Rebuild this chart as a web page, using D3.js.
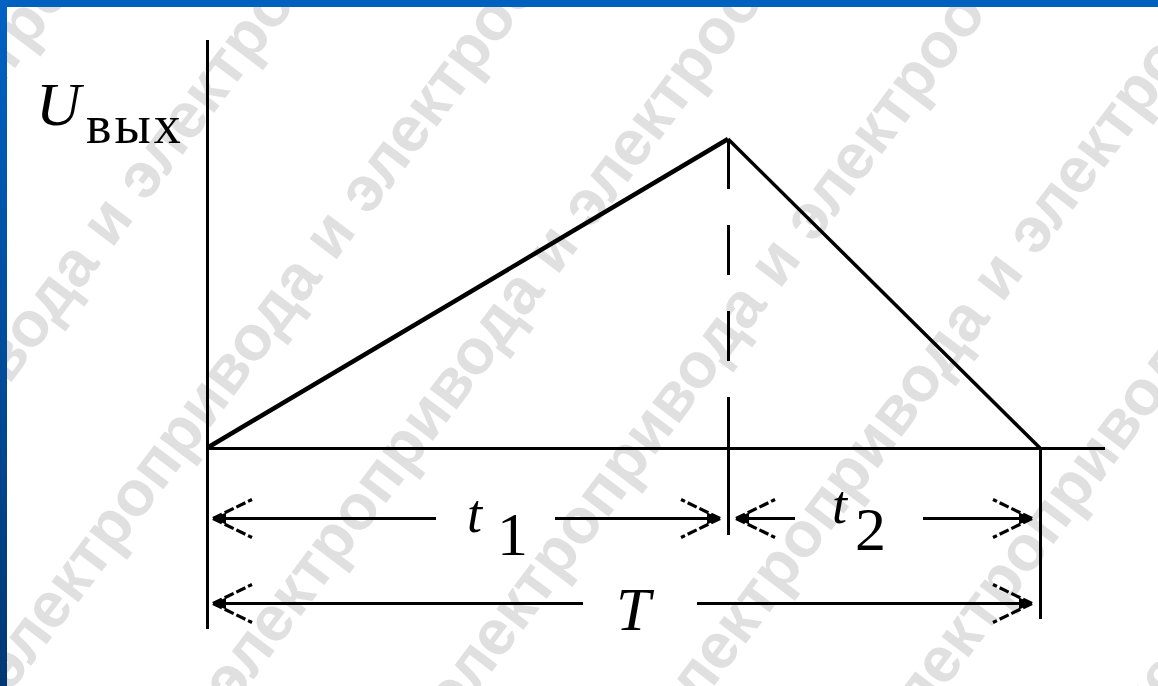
<!DOCTYPE html>
<html>
<head>
	<meta http-equiv="Content-Type" content="text/html;charset=UTF-8">
	<title>Uвых</title>
	<style>
		body { margin: 0; background: #fff; }
		svg { display: block; }
		.wm { font-family: "Liberation Sans", Arial, sans-serif; font-weight: bold; fill: #e0e0e0; }
		.lbl { font-family: "Liberation Serif", "Times New Roman", serif; fill: #000; }
	</style>
</head>
<body>
	<div class="chart"></div>

	<script src="https://d3js.org/d3.v7.min.js"></script>
	<script type="text/javascript">

		var w = 1158, h = 686;

		// time points: 0, t1, T  and output voltage at them
		var tPoints = [0, 0.6255, 1];
		var uValues = [0, 1, 0];

		// dimension spans (from, to) as indices into tPoints
		var spanFrom = [0, 1, 0];
		var spanTo = [1, 2, 2];
		var spanNames = ["t", "t", "T"];
		var spanSubs = ["1", "2", ""];

		var yLabel = "U", ySub = "вых";
		var watermark = "электропривода и электрооборудования";

		var x = d3.scaleLinear().domain([0, 1]).range([207, 1040]);
		var y = d3.scaleLinear().domain([0, 1]).range([448, 139]);

		var svg = d3.select("div.chart").append("svg")
					.attr("width", w)
					.attr("height", h);

		svg.append("rect").attr("width", w).attr("height", h).attr("fill", "#fff");

		/******************** watermark ********************/
		var wm = svg.append("g").attr("class", "wm").style("font-size", "64px");
		var probe = wm.append("text").text("и");
		var iW = probe.node().getComputedTextLength();
		probe.text(watermark + " электропривода ");
		var preW = probe.node().getComputedTextLength();
		probe.remove();

		var deg = 53, ang = deg * Math.PI / 180;
		var dX = Math.cos(ang), dY = -Math.sin(ang);
		var nX = Math.sin(ang), nY = Math.cos(ang);
		for (var k = -2; k <= 9; k++) {
			var v = 222 + 186 * k, u = -130 + 123 * k;
			var px = u * dX + v * nX, py = u * dY + v * nY;
			wm.append("text")
				.attr("transform", "translate(" + px + "," + py + ") rotate(" + (-deg) + ")")
				.attr("x", -preW - iW / 2)
				.attr("dy", 17)
				.text(watermark + " " + watermark + " " + watermark);
		}

		// frame
		var grad = svg.append("defs").append("linearGradient")
			.attr("id", "side").attr("x1", 0).attr("y1", 0).attr("x2", 0).attr("y2", 1);
		grad.append("stop").attr("offset", "0%").attr("stop-color", "#0062c4");
		grad.append("stop").attr("offset", "100%").attr("stop-color", "#003874");
		svg.append("rect").attr("width", w).attr("height", 7).attr("fill", "#0060c0");
		svg.append("rect").attr("width", 7).attr("height", h).attr("fill", "url(#side)");

		/******************** axes ********************/
		var g = svg.append("g").attr("stroke", "#000").attr("fill", "none");

		g.append("line").attr("shape-rendering", "crispEdges").attr("stroke-width", 3)
			.attr("x1", x(0)).attr("y1", y(1.32)).attr("x2", x(0)).attr("y2", y(-0.585));
		g.append("line").attr("shape-rendering", "crispEdges").attr("stroke-width", 3)
			.attr("x1", x(0)).attr("y1", y(0)).attr("x2", x(1.078)).attr("y2", y(0));
		g.append("line").attr("shape-rendering", "crispEdges").attr("stroke-width", 3)
			.attr("x1", x(tPoints[2])).attr("y1", y(0)).attr("x2", x(tPoints[2])).attr("y2", y(-0.553));

		// dashed line from the peak
		g.append("line").attr("shape-rendering", "crispEdges").attr("stroke-width", 3)
			.attr("stroke-dasharray", "50,36")
			.attr("x1", x(tPoints[1])).attr("y1", y(uValues[1])).attr("x2", x(tPoints[1])).attr("y2", y(0));
		g.append("line").attr("shape-rendering", "crispEdges").attr("stroke-width", 3)
			.attr("x1", x(tPoints[1])).attr("y1", y(0.026)).attr("x2", x(tPoints[1])).attr("y2", y(-0.283));

		// the signal
		var pts = tPoints.map(function(t, i){ return [x(t), y(uValues[i])]; });
		g.append("line").attr("stroke-width", 4.5)
			.attr("x1", pts[0][0]).attr("y1", pts[0][1]).attr("x2", pts[1][0]).attr("y2", pts[1][1]);
		g.append("line").attr("stroke-width", 3.5)
			.attr("x1", pts[1][0]).attr("y1", pts[1][1]).attr("x2", pts[2][0]).attr("y2", pts[2][1]);

		/******************** dimension arrows ********************/
		var rowU = [-0.227, -0.227, -0.503];
		var gapL = [436, 795, 583], gapR = [555, 923, 697];

		function arrowHead(tipX, rowY, dir){
			// dir = -1 points left, +1 points right
			var bx = tipX - dir * 39;
			[-19, 19].forEach(function(dy){
				g.append("line").attr("stroke-width", 3.2).attr("stroke-dasharray", "10,3")
					.attr("x1", tipX).attr("y1", rowY).attr("x2", bx).attr("y2", rowY + dy);
			});
			g.append("path").attr("fill", "#000").attr("stroke", "none")
				.attr("d", "M" + tipX + "," + rowY + "L" + (tipX - dir * 13) + "," + (rowY - 6) +
					"L" + (tipX - dir * 13) + "," + (rowY + 6) + "Z");
		}

		spanFrom.forEach(function(f, i){
			var ry = Math.round(y(rowU[i])) + 0.5;
			var x1 = x(tPoints[f]) + (f === 0 ? 6 : 8);
			var x2 = x(tPoints[spanTo[i]]) - 8;
			g.append("line").attr("stroke-width", 3)
				.attr("x1", x1).attr("y1", ry).attr("x2", gapL[i]).attr("y2", ry);
			g.append("line").attr("stroke-width", 3)
				.attr("x1", gapR[i]).attr("y1", ry).attr("x2", x2).attr("y2", ry);
			arrowHead(x1, ry, -1);
			arrowHead(x2, ry, 1);
		});

		/******************** labels ********************/
		var lbl = svg.append("g").attr("class", "lbl");

		lbl.append("text").attr("x", 36).attr("y", 125)
			.style("font-size", "62px").style("font-style", "italic").text(yLabel);
		lbl.append("text").attr("x", 86).attr("y", 143)
			.style("font-size", "54px").style("letter-spacing", "3px").text(ySub);

		var nameX = [467, 832, 616], nameY = [532, 523, 630];
		var subX = [497, 855], subY = [555, 550];
		spanNames.forEach(function(n, i){
			lbl.append("text").attr("x", nameX[i]).attr("y", nameY[i])
				.style("font-size", n === "T" ? "62px" : "54px").style("font-style", "italic").text(n);
			if (spanSubs[i])
				lbl.append("text").attr("x", subX[i]).attr("y", subY[i])
					.style("font-size", "62px").text(spanSubs[i]);
		});
	</script>
</body>
</html>
